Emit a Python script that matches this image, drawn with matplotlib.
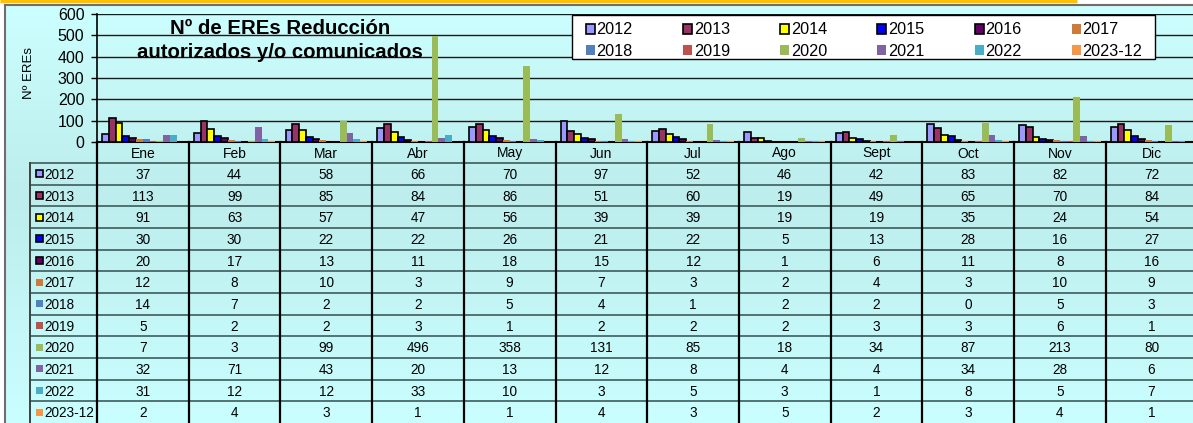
import numpy as np
import matplotlib
matplotlib.use('Agg')
import matplotlib.pyplot as plt
from matplotlib.colors import LinearSegmentedColormap
from matplotlib.patches import Rectangle

plt.rcParams['font.family'] = ['Liberation Sans', 'DejaVu Sans']

# datos
meses = ['Ene', 'Feb', 'Mar', 'Abr', 'May', 'Jun', 'Jul', 'Ago', 'Sept', 'Oct', 'Nov', 'Dic']
anios = ['2012', '2013', '2014', '2015', '2016', '2017',
         '2018', '2019', '2020', '2021', '2022', '2023-12']
v2012 = [37, 44, 58, 66, 70, 97, 52, 46, 42, 83, 82, 72]
v2013 = [113, 99, 85, 84, 86, 51, 60, 19, 49, 65, 70, 84]
v2014 = [91, 63, 57, 47, 56, 39, 39, 19, 19, 35, 24, 54]
v2015 = [30, 30, 22, 22, 26, 21, 22, 5, 13, 28, 16, 27]
v2016 = [20, 17, 13, 11, 18, 15, 12, 1, 6, 11, 8, 16]
v2017 = [12, 8, 10, 3, 9, 7, 3, 2, 4, 3, 10, 9]
v2018 = [14, 7, 2, 2, 5, 4, 1, 2, 2, 0, 5, 3]
v2019 = [5, 2, 2, 3, 1, 2, 2, 2, 3, 3, 6, 1]
v2020 = [7, 3, 99, 496, 358, 131, 85, 18, 34, 87, 213, 80]
v2021 = [32, 71, 43, 20, 13, 12, 8, 4, 4, 34, 28, 6]
v2022 = [31, 12, 12, 33, 10, 3, 5, 3, 1, 8, 5, 7]
v2023 = [2, 4, 3, 1, 1, 4, 3, 5, 2, 3, 4, 1]
series = [v2012, v2013, v2014, v2015, v2016, v2017,
          v2018, v2019, v2020, v2021, v2022, v2023]

colores = ['#9999FF', '#993366', '#FFFF00', '#0000FF', '#660066', '#D07A3A',
           '#4F81BD', '#C0504D', '#9BBB59', '#8064A2', '#4BACC6', '#F79646']
n_borde = 5  # las 5 primeras series llevan borde negro

W, H = 1193, 423
fig = plt.figure(figsize=(W / 100, H / 100), dpi=100, facecolor='white')


def fx(px):
    return px / W


def fy(py):
    return 1 - py / H


# fondo degradado + marco (coordenadas en pixeles)
bg = fig.add_axes([0, 0, 1, 1], zorder=-10)
bg.set_xlim(0, W)
bg.set_ylim(H, 0)
bg.axis('off')
cmap = LinearSegmentedColormap.from_list(
    'fondo', [(0, '#CCFFFF'), (0.45, '#BDEDED'), (1, '#CAFFFF')])
bg.imshow(np.linspace(0, 1, 256).reshape(-1, 1), cmap=cmap,
          extent=[5, W, H, 5], aspect='auto', interpolation='bilinear')
bg.plot([0, 1077], [1, 1], color='#FFC000', lw=2.5, solid_capstyle='butt')
bg.plot([5, 5], [H, 5], color='#6E6E6E', lw=1.5)
bg.plot([5, W], [5, 5], color='#6E6E6E', lw=1.5)

# tabla de datos
x0, cw = 97, 91.7
y_cab, y0, rh = 142, 163, 21.67
col_x = [x0 + k * cw for k in range(13)]
for j in range(12):
    y = y0 + j * rh
    bg.plot([30, W], [y, y], color='#3F5C5C', lw=1.2, zorder=2)
bg.plot([30, 30], [y0, H], color='#404040', lw=1.4, zorder=2)
for cx in col_x:
    bg.plot([cx, cx], [y_cab, H], color='black', lw=1.6, zorder=3)
for k, m in enumerate(meses):
    bg.text(x0 + (k + 0.5) * cw, (y_cab + y0) / 2 + 1, m, ha='center',
            va='center', fontsize=10)
for j, (nombre, vals) in enumerate(zip(anios, series)):
    yc = y0 + (j + 0.5) * rh
    borde = 'black' if j < n_borde else 'none'
    bg.add_patch(Rectangle((36, yc - 3.5), 7, 7, facecolor=colores[j],
                           edgecolor=borde, lw=1.2, zorder=4))
    bg.text(44, yc + 1, nombre, ha='left', va='center', fontsize=9.8)
    for k, v in enumerate(vals):
        bg.text(x0 + (k + 0.5) * cw, yc + 1, str(v), ha='center',
                va='center', fontsize=9.8)

# grafico de barras
ax = fig.add_axes([fx(97), fy(142), 12 * cw / W, 128 / H])
ax.patch.set_alpha(0)
x = np.arange(12) + 0.5
bw = 0.074
for i, (nombre, vals) in enumerate(zip(anios, series)):
    off = (i - 5.5) * bw
    if i < n_borde:
        ax.bar(x + off, vals, bw, color=colores[i], edgecolor='black',
               lw=1.2, label=nombre, zorder=3)
    else:
        ax.bar(x + off, vals, bw, color=colores[i], lw=0,
               label=nombre, zorder=3)

ax.set_xlim(0, 12)
ax.set_ylim(0, 600)
ax.set_yticks(range(0, 601, 100))
ax.set_xticks([])
ax.grid(axis='y', color='#1A1A1A', lw=1.0, zorder=1)
ax.tick_params(axis='y', direction='out', length=4, width=1,
               labelsize=11.5, pad=5)
for s in ['top', 'right']:
    ax.spines[s].set_visible(False)
ax.spines['left'].set_linewidth(1.2)
ax.spines['bottom'].set_linewidth(1.5)

# leyenda: caja propia y entradas reordenadas (filas 2012..2017 / 2018..2023-12)
fig.patches.append(Rectangle((fx(572), fy(59)), (1155 - 572) / W, 44 / H,
                             transform=fig.transFigure, facecolor='white',
                             edgecolor='black', lw=1.0, zorder=5))
h, l = ax.get_legend_handles_labels()
orden = [i + 6 * r for i in range(6) for r in range(2)]
leg = fig.legend([h[i] for i in orden], [l[i] for i in orden], ncol=6,
                 loc='upper left', bbox_to_anchor=(fx(586), fy(22.5)),
                 bbox_transform=fig.transFigure, borderaxespad=0,
                 fontsize=11.7, handlelength=0.55, handleheight=0.55,
                 handletextpad=0.1, columnspacing=3.1, borderpad=0,
                 labelspacing=0.4, frameon=False)
leg.set_zorder(6)

fig.text(fx(29), fy(73), 'Nº EREs', rotation=90, ha='center', va='center',
         fontsize=9.5)
fig.text(fx(280), fy(29), 'Nº de EREs Reducción', ha='center', va='center',
         fontsize=14.7, fontweight='bold')
fig.text(fx(280), fy(52), 'autorizados y/o comunicados', ha='center',
         va='center', fontsize=14.7, fontweight='bold')

fig.savefig('out.png', dpi=100)
